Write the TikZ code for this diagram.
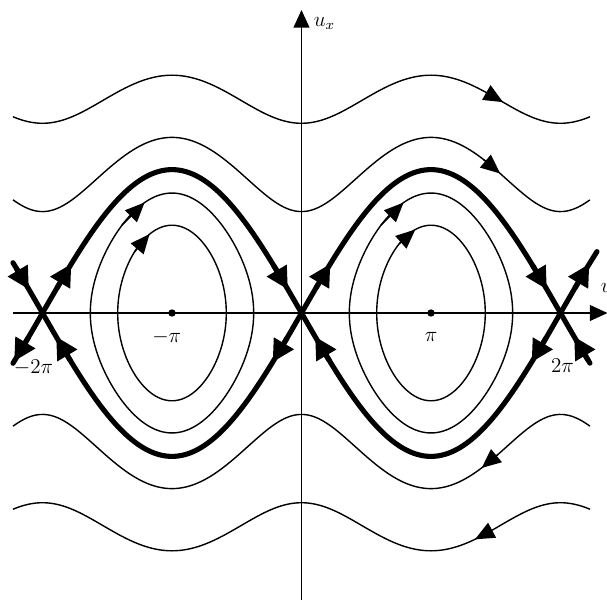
\documentclass[tikz,border=0pt]{standalone}
\usetikzlibrary{arrows.meta}
\begin{document}
\begin{tikzpicture}[
  declare function={
    sep(\uA)=2*abs(sin(deg(\uA/2)));
    rot(\uA,\eA)=sqrt(2*(\eA-cos(deg(\uA))));
    ox(\tA,\cA,\kA)=\cA+2*rad(asin(\kA*sin(\tA)));
    oy(\tA,\kA)=2*\kA*cos(\tA);
  },
  axisline/.style={line width=0.8pt,-{Triangle[length=10pt,width=9pt]}},
  orbit/.style={line width=0.8pt},
  orbtip/.style={line width=0.8pt,-{Triangle[length=11pt,width=9.5pt]}},
  sepline/.style={line width=2.9pt,line cap=round},
  septip/.style={line width=2.9pt,-{Triangle[length=12.5pt,width=12.5pt]}},
  dot/.style={circle,fill,inner sep=0pt,minimum size=4.2pt},
  lbl/.style={inner sep=0pt,font=\fontsize{12}{14}\selectfont},
]
\useasboundingbox (-6.03,-5.74) rectangle (6.11,6.26);

% axes
\coordinate (xl) at (-5.77,0);
\coordinate (xr) at (6.12,0);
\coordinate (yb) at (0,-5.74);
\coordinate (yt) at (0,6.06);
\draw[axisline] (xl) -- (xr);
\draw[axisline] (yb) -- (yt);

\begin{scope}[x=0.8244cm,y=1.434cm]
  % rotating orbits
  \draw[orbit] plot[domain=-7:7,samples=150] (\x,{rot(\x,4.5)});
  \draw[orbit] plot[domain=-7:7,samples=150] (\x,{rot(\x,2)});
  \draw[orbit] plot[domain=-7:7,samples=150] (\x,{-rot(\x,2)});
  \draw[orbit] plot[domain=-7:7,samples=150] (\x,{-rot(\x,4.5)});
  \draw[orbtip] (4.49,{rot(4.49,4.5)}) -- (4.89,{rot(4.89,4.5)});
  \draw[orbtip] (4.42,{rot(4.42,2)}) -- (4.82,{rot(4.82,2)});
  \draw[orbtip] (4.77,{-rot(4.77,2)}) -- (4.37,{-rot(4.37,2)});
  \draw[orbtip] (4.61,{-rot(4.61,4.5)}) -- (4.21,{-rot(4.21,4.5)});

  % closed orbits
  \foreach \cen in {-pi,pi} {
    \draw[orbit] plot[domain=0:360,samples=181] ({ox(\x,\cen,0.612)},{oy(\x,0.612)});
    \draw[orbit] plot[domain=0:360,samples=181] ({ox(\x,\cen,0.8365)},{oy(\x,0.8365)});
    \draw[orbtip] ({ox(-43,\cen,0.8365)},{oy(-43,0.8365)}) -- ({ox(-23,\cen,0.8365)},{oy(-23,0.8365)});
  }
  \draw[orbtip] ({ox(-46,-pi,0.612)},{oy(-46,0.612)}) -- ({ox(-26,-pi,0.612)},{oy(-26,0.612)});
  \draw[orbtip] ({ox(-38,pi,0.612)},{oy(-38,0.612)}) -- ({ox(-18,pi,0.612)},{oy(-18,0.612)});

  % separatrices
  \draw[sepline] plot[domain=-7:7,samples=200] (\x,{2*sin(deg(\x/2))});
  \draw[sepline] plot[domain=-7:7.17,samples=200] (\x,{-2*sin(deg(\x/2))});
  % upper arrows (flow to the right)
  \draw[septip] (-6.913,{sep(-6.913)}) -- (-6.613,{sep(-6.613)});
  \draw[septip] (-5.933,{sep(-5.933)}) -- (-5.583,{sep(-5.583)});
  \draw[septip] (-0.68,{sep(-0.68)}) -- (-0.33,{sep(-0.33)});
  \draw[septip] (0.35,{sep(0.35)}) -- (0.7,{sep(0.7)});
  \draw[septip] (5.603,{sep(5.603)}) -- (5.953,{sep(5.953)});
  \draw[septip] (6.633,{sep(6.633)}) -- (6.983,{sep(6.983)});
  % lower arrows (flow to the left)
  \draw[septip] (6.963,{-sep(6.963)}) -- (6.613,{-sep(6.613)});
  \draw[septip] (5.933,{-sep(5.933)}) -- (5.583,{-sep(5.583)});
  \draw[septip] (0.68,{-sep(0.68)}) -- (0.33,{-sep(0.33)});
  \draw[septip] (-0.35,{-sep(-0.35)}) -- (-0.7,{-sep(-0.7)});
  \draw[septip] (-5.603,{-sep(-5.603)}) -- (-5.953,{-sep(-5.953)});
  \draw[septip] (-6.62,{-sep(-6.62)}) -- (-6.97,{-sep(-6.97)});

  % centres
  \node[dot] (cL) at (-pi,0) {};
  \node[dot] (cR) at (pi,0) {};
\end{scope}

% labels
\node[lbl] (lmpi) at (-2.696,-0.48) {$-\pi$};
\node[lbl] (lpi) at (2.59,-0.48) {$\pi$};
\node[lbl] (lmtwopi) at (-5.36,-1.1) {$-2\pi$};
\node[lbl] (ltwopi) at (5.22,-1.05) {$2\pi$};
\node[lbl,anchor=base west] (lux) at (0.24,5.74) {$u_x$};
\node[lbl,anchor=base west] (lu) at (5.98,0.42) {$u$};
\end{tikzpicture}
\end{document}
